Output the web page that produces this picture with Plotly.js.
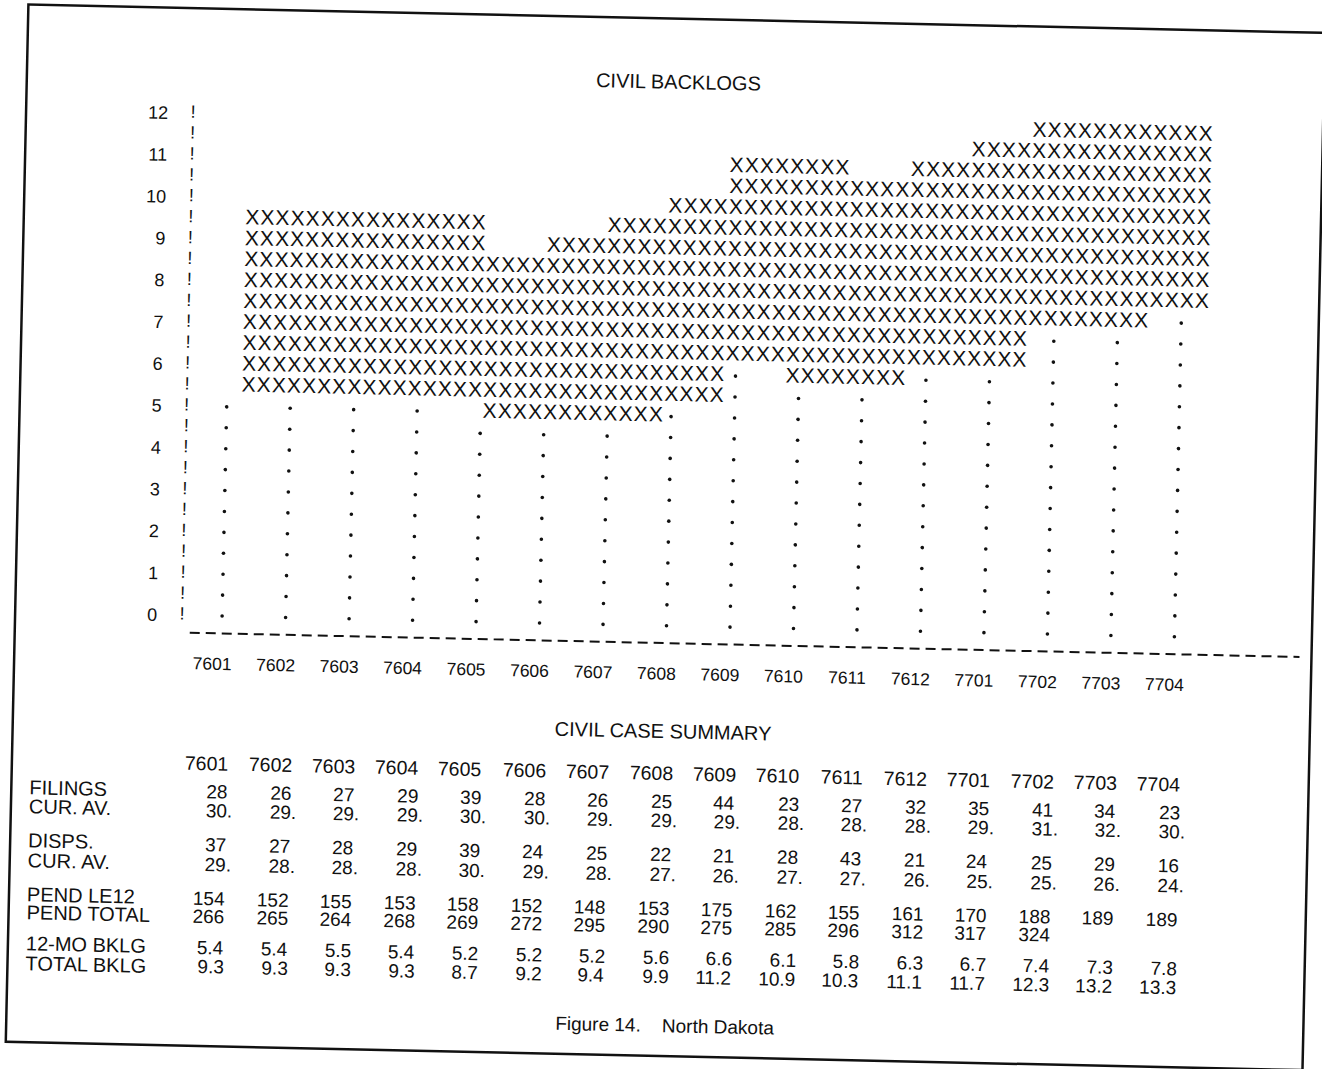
<!DOCTYPE html>
<html><head><meta charset="utf-8">
<script src="https://cdn.plot.ly/plotly-3.0.1.min.js"></script>
<style>
html,body{margin:0;padding:0;background:#fff;overflow:hidden;width:1322px;height:1069px;}
#chart{width:1322px;height:1069px;transform:rotate(1.25deg);transform-origin:661px 534.5px;}
</style></head><body><div id="chart"></div>
<script>
// ---- data ----
const months = ['7601','7602','7603','7604','7605','7606','7607','7608','7609','7610','7611','7612','7701','7702','7703','7704'];
const filings    = [28,26,27,29,39,28,26,25,44,23,27,32,35,41,34,23];
const filingsAvg = [30,29,29,29,30,30,29,29,29,28,28,28,29,31,32,30];
const disps      = [37,27,28,29,39,24,25,22,21,28,43,21,24,25,29,16];
const dispsAvg   = [29,28,28,28,30,29,28,27,26,27,27,26,25,25,26,24];
const pendLE12   = [154,152,155,153,158,152,148,153,175,162,155,161,170,188,189,189];
const pendTotal  = [266,265,264,268,269,272,295,290,275,285,296,312,317,324,null,null];
const bklg12     = [5.4,5.4,5.5,5.4,5.2,5.2,5.2,5.6,6.6,6.1,5.8,6.3,6.7,7.4,7.3,7.8];
const bklgTotal  = [9.3,9.3,9.3,9.3,8.7,9.2,9.4,9.9,11.2,10.9,10.3,11.1,11.7,12.3,13.2,13.3];
const yTicks     = [0,1,2,3,4,5,6,7,8,9,10,11,12];
const rowLabels  = ['FILINGS','CUR. AV.','DISPS.','CUR. AV.','PEND LE12','PEND TOTAL','12-MO BKLG','TOTAL BKLG'];

// ---- layout constants (pixels in the unrotated page) ----
const W=1322, H=1069, L=184, R=20, T=105, B=426;
const PX_MONTH=63.5, X_MONTH0=224;     // dot column of first month
const PX_UNIT=41.84, Y_ZERO=625.6;      // value 0 position
const XMIN=(L-X_MONTH0)/PX_MONTH, XMAX=(W-R-X_MONTH0)/PX_MONTH;
const YMIN=(Y_ZERO-(H-B))/PX_UNIT, YMAX=(Y_ZERO-T)/PX_UNIT;
const paperX = X => (X-L)/(W-L-R);
const paperY = Y => (H-B-Y)/(H-T-B);
const FONT = 'Liberation Sans, Arial, Helvetica, sans-serif';
const STEP = 0.5, CAP = 12;            // printer rows every half unit, top row 12
const CHAR0 = 0.3386, CHARW = 0.2378;   // printer character columns, in month units
const half = v => Math.round(v*2)/2;

// ---- build printer-style marks from the data ----
const xX=[], xY=[], dX=[], dY=[];
months.forEach((m,i)=>{
  const lo = half(bklg12[i]);
  const hi = Math.min(half(bklgTotal[i]), CAP);
  for (let v=lo; v<=hi+1e-9; v+=STEP){
    for (let j=0;j<4;j++){ xX.push(CHAR0+CHARW*(4*i+j)); xY.push(v); }
  }
  for (let v=0; v<lo-1e-9; v+=STEP){ dX.push(i); dY.push(v); }
});
const bangY=[]; for (let v=0; v<=CAP+1e-9; v+=STEP) bangY.push(v);

const traces = [
  {type:'scatter', mode:'text', x:xX, y:xY, text:xX.map(()=>'X'),
   textposition:'middle center', textfont:{family:FONT,size:21,color:'#111'},
   cliponaxis:false, hoverinfo:'skip', showlegend:false},
  {type:'scatter', mode:'markers', x:dX, y:dY,
   marker:{size:3.6,color:'#111'}, cliponaxis:false, hoverinfo:'skip', showlegend:false},
  {type:'scatter', mode:'text', x:bangY.map(()=>XMIN), y:bangY, text:bangY.map(()=>'!'),
   textposition:'middle center', textfont:{family:FONT,size:18,color:'#111'},
   cliponaxis:false, hoverinfo:'skip', showlegend:false}
];

// ---- table annotations ----
const ann = [];
const rowY = {hdr:772.5, fil:801, filA:820, dis:854, disA:874, le:908, tot:926, b12:957, bt:977};
const tableRows = [
  [filings, rowY.fil, v=>String(v), 0],
  [filingsAvg, rowY.filA, v=>v+'.', 5],
  [disps, rowY.dis, v=>String(v), 0],
  [dispsAvg, rowY.disA, v=>v+'.', 5],
  [pendLE12, rowY.le, v=>String(v), 0],
  [pendTotal, rowY.tot, v=>String(v), 0],
  [bklg12, rowY.b12, v=>v.toFixed(1), 0],
  [bklgTotal, rowY.bt, v=>v.toFixed(1), 0]
];
months.forEach((m,i)=>{
  ann.push({x:i, xref:'x', y:paperY(rowY.hdr), yref:'paper', text:m, showarrow:false,
    xanchor:'right', xshift:11, yanchor:'middle', font:{family:FONT,size:19.5,color:'#111'}});
  tableRows.forEach(([arr,Y,fmt,sh])=>{
    if (arr[i]===null || arr[i]===undefined) return;
    ann.push({x:i, xref:'x', y:paperY(Y), yref:'paper', text:fmt(arr[i]), showarrow:false,
      xanchor:'right', xshift:11+sh, yanchor:'middle', font:{family:FONT,size:19,color:'#111'}});
  });
});
const labelYs=[rowY.fil,rowY.filA,rowY.dis,rowY.disA,rowY.le,rowY.tot,rowY.b12,rowY.bt];
rowLabels.forEach((t,k)=>{
  ann.push({x:paperX(33), xref:'paper', y:paperY(labelYs[k]), yref:'paper', text:t, showarrow:false,
    xanchor:'left', yanchor:'middle', font:{family:FONT,size:20,color:'#111'}});
});
ann.push({x:paperX(667), xref:'paper', y:paperY(731), yref:'paper', text:'CIVIL CASE SUMMARY',
  showarrow:false, xanchor:'center', yanchor:'middle', font:{family:FONT,size:20,color:'#111'}});
ann.push({x:paperX(675), xref:'paper', y:paperY(1025), yref:'paper', text:'Figure 14.\u00a0\u00a0\u00a0 North Dakota',
  showarrow:false, xanchor:'center', yanchor:'middle', font:{family:FONT,size:19,color:'#111'}});

const layout = {
  width:W, height:H, margin:{l:L,r:R,t:T,b:B,pad:0},
  paper_bgcolor:'#fff', plot_bgcolor:'#fff', showlegend:false,
  title:{text:'CIVIL BACKLOGS', font:{family:FONT,size:20,color:'#111'},
    x:668.6/W, xref:'container', xanchor:'center', y:1-81.6/H, yref:'container', yanchor:'middle'},
  xaxis:{range:[XMIN,XMAX], tickvals:months.map((m,i)=>i), ticktext:months,
    showgrid:false, zeroline:false, showline:false, ticks:'',
    tickfont:{family:FONT,size:17.5,color:'#111'}, ticklabelshift:-9, ticklabelstandoff:18},
  yaxis:{range:[YMIN,YMAX], tickvals:yTicks, ticktext:yTicks.map(String),
    showgrid:false, zeroline:false, showline:false, ticks:'',
    tickfont:{family:FONT,size:18,color:'#111'}, ticklabelstandoff:24},
  shapes:[
    {type:'rect', xref:'paper', yref:'paper', x0:paperX(17), x1:paperX(1314), y0:paperY(1056), y1:paperY(18.5),
     line:{color:'#111',width:2.5}},
    {type:'line', xref:'paper', yref:'paper', x0:paperX(192), x1:paperX(1302), y0:paperY(643), y1:paperY(643),
     line:{color:'#111',width:2,dash:'10px,6px'}}
  ],
  annotations:ann
};
Plotly.newPlot('chart', traces, layout, {staticPlot:true, displayModeBar:false});
</script></body></html>
